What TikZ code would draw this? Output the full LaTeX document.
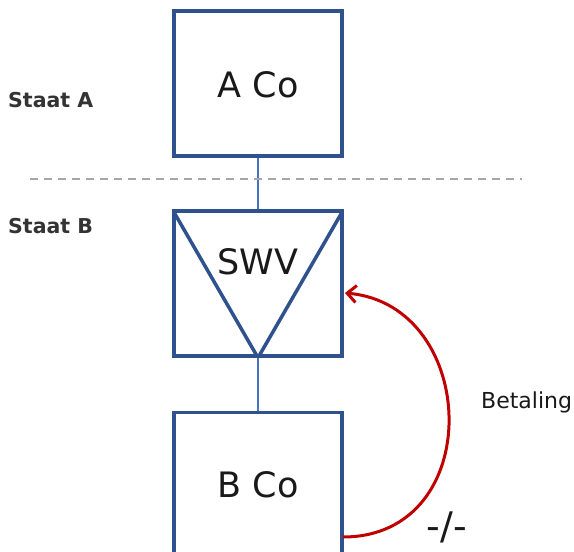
\documentclass[tikz,border=0pt]{standalone}
\usepackage{fontspec}
\setmainfont{DejaVu Sans}
\usetikzlibrary{arrows.meta}
\definecolor{boxblue}{HTML}{2F528F}
\definecolor{linkblue}{HTML}{4472C4}
\definecolor{payred}{HTML}{C00000}
\begin{document}
\begin{tikzpicture}[x=1pt,y=-1pt,
  entity/.style={draw=boxblue,line width=3.5pt,fill=white,minimum width=168pt,minimum height=145pt,inner sep=0pt},
  big/.style={font=\fontsize{35}{40}\selectfont,text=black!90},
  lbl/.style={font=\fontsize{22}{26}\selectfont,text=black!90,inner sep=0pt},
  statelbl/.style={font=\bfseries\fontsize{20.5}{24}\selectfont,text=black!80,inner sep=0pt},
  link/.style={draw=linkblue,line width=2pt},
  pay/.style={draw=payred,line width=3pt,-{Straight Barb[length=9pt,width=17pt,line width=3pt]}}]
\useasboundingbox (0,0) rectangle (574,552);
\node[entity] (aco) at (258,83.5) {};
\node[entity] (swv) at (258,283.5) {};
\node[entity] (bco) at (258,485) {};
\begin{scope}
\clip (swv.north west) rectangle (swv.south east);
\draw[draw=boxblue,line width=3.5pt,line join=round] (swv.north west) -- (swv.south) -- (swv.north east);
\end{scope}
\node[big] (acot) at (258,85) {A Co};
\node[big] (swvt) at (258,262) {SWV};
\node[big] (bcot) at (258,485) {B Co};
\draw[link] (aco.south) -- (swv.north);
\draw[link] (swv.south) -- (bco.north);
\coordinate (dl) at (30,179);
\coordinate (dr) at (522,179);
\draw[gray!70,line width=2pt,dash pattern=on 8pt off 6pt] (dl) -- (dr);
\node[statelbl,anchor=west] (sa) at (8,100) {Staat A};
\node[statelbl,anchor=west] (sb) at (8,226) {Staat B};
\node[lbl,anchor=west] (bet) at (481,402) {Betaling};
\coordinate (ps) at (343,537);
\coordinate (pe) at (345,293);
\draw[pay] (ps) .. controls (487,537) and (480,305) .. (pe);
\node[font=\fontsize{38}{44}\selectfont,text=black!90] (nil) at (447,527) {-/-};
\end{tikzpicture}
\end{document}
